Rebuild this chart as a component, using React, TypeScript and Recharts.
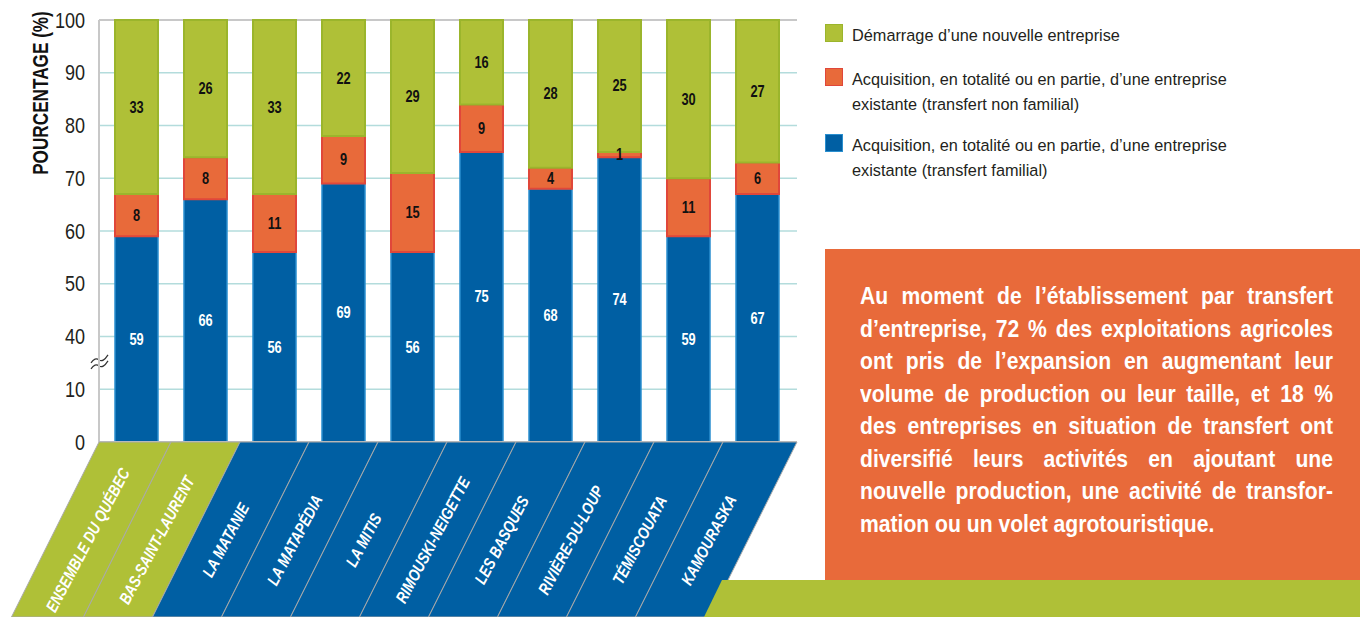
import { BarChart, Bar, XAxis, YAxis, CartesianGrid, LabelList, ReferenceLine } from 'recharts';

const regions = [
  'ENSEMBLE DU QUÉBEC',
  'BAS-SAINT-LAURENT',
  'LA MATANIE',
  'LA MATAPÉDIA',
  'LA MITIS',
  'RIMOUSKI-NEIGETTE',
  'LES BASQUES',
  'RIVIÈRE-DU-LOUP',
  'TÉMISCOUATA',
  'KAMOURASKA',
];
const familial = [59, 66, 56, 69, 56, 75, 68, 74, 59, 67];
const nonFamilial = [8, 8, 11, 9, 15, 9, 4, 1, 11, 6];
const demarrage = [33, 26, 33, 22, 29, 16, 28, 25, 30, 27];
const yTicks = [0, 10, 40, 50, 60, 70, 80, 90, 100];

const legendItems = [
  { color: '#afc037', border: '#9bb52c', lines: ['Démarrage d’une nouvelle entreprise'] },
  {
    color: '#e86a3a',
    border: '#e0473a',
    lines: ['Acquisition, en totalité ou en partie, d’une entreprise', 'existante (transfert non familial)'],
  },
  {
    color: '#005fa3',
    border: '#2a8fcf',
    lines: ['Acquisition, en totalité ou en partie, d’une entreprise', 'existante (transfert familial)'],
  },
];

const noteLines = [
  'Au moment de l’établissement par transfert',
  'd’entreprise, 72 % des exploitations agricoles',
  'ont pris de l’expansion en augmentant leur',
  'volume de production ou leur taille, et 18 %',
  'des entreprises en situation de transfert ont',
  'diversifié leurs activités en ajoutant une',
  'nouvelle production, une activité de transfor-',
  'mation ou un volet agrotouristique.',
];

// axis break: 10..40 squeezed into one step
const BREAK_LOW = 10;
const BREAK_HIGH = 40;
const toAxis = (v: number) => (v <= BREAK_LOW ? v : v - (BREAK_HIGH - BREAK_LOW) + 10);
const fromAxis = (p: number) => (p <= BREAK_LOW ? p : p + (BREAK_HIGH - BREAK_LOW) - 10);

const data = regions.map((name, i) => ({
  name,
  familial: familial[i],
  familialPlot: toAxis(familial[i]),
  nonFamilial: nonFamilial[i],
  demarrage: demarrage[i],
}));

const GREEN = '#afc037';
const ORANGE = '#e86a3a';
const BLUE = '#005fa3';
const BORDER = '#c8c8c8';
const SANS = '"Liberation Sans", Arial, sans-serif';

const BAND = 69;
const DEPTH = 175;
const SLANT = 0.5;

function RegionTick(props: any) {
  const { x, y, payload, index } = props;
  let l = x - BAND / 2;
  let r = x + BAND / 2;
  if (index === 0) l -= 3;
  if (index === regions.length - 1) r += 5;
  const dx = DEPTH * SLANT;
  const pts = `${l},${y} ${r},${y} ${r - dx},${y + DEPTH} ${l - dx},${y + DEPTH}`;
  const cy = y + 98;
  const cx = x - 98 * SLANT;
  return (
    <g>
      <polygon points={pts} fill={index < 2 ? GREEN : BLUE} stroke="#a9a9a9" strokeWidth={1} />
      <text
        transform={`translate(${cx},${cy}) rotate(-62) scale(0.82,1)`}
        textAnchor="middle"
        dominantBaseline="central"
        fill="#fff"
        fontFamily={SANS}
        fontWeight="bold"
        fontStyle="italic"
        fontSize={16.5}
      >
        {payload.value}
      </text>
    </g>
  );
}

function PercentTick(props: any) {
  const { x, y, payload } = props;
  return (
    <text
      transform={`translate(${x},${y}) scale(0.82,1)`}
      textAnchor="end"
      dominantBaseline="central"
      fill="#231f20"
      fontFamily={SANS}
      fontSize={22}
    >
      {fromAxis(payload.value)}
    </text>
  );
}

function ValueLabel(props: any) {
  const { x, y, width, height, value, color } = props;
  const cx = x + width / 2;
  const cy = y + height / 2;
  return (
    <text
      transform={`translate(${cx},${cy}) scale(0.8,1)`}
      textAnchor="middle"
      dominantBaseline="central"
      fill={color}
      fontFamily={SANS}
      fontWeight="bold"
      fontSize={16}
    >
      {value}
    </text>
  );
}

function BreakMark(props: any) {
  const { viewBox } = props;
  const x = 99;
  const y = viewBox.y;
  return (
    <g>
      <rect x={x - 2} y={y - 7} width={5} height={14} fill="#fff" />
      <path d={`M${x - 8},${y} q4,-6 8,-3 q4,3 9,-5`} fill="none" stroke="#333" strokeWidth={1.2} />
      <path d={`M${x - 8},${y + 6} q4,-6 8,-3 q4,3 9,-5`} fill="none" stroke="#333" strokeWidth={1.2} />
    </g>
  );
}

export default function App() {
  return (
    <div style={{ position: 'absolute', left: 0, top: 0, width: 1360, height: 617, overflow: 'hidden', background: '#fff' }}>
      <BarChart width={800} height={617} data={data} margin={{ top: 20, right: 3, bottom: 0, left: 0 }} barSize={43}>
        <CartesianGrid vertical={false} stroke="#b3dcdc" strokeWidth={1.5} horizontalValues={[10, 20, 30, 40, 50, 60, 70]} />
        <CartesianGrid vertical={false} stroke={BORDER} strokeWidth={2} horizontalValues={[80]} />
        <XAxis
          dataKey="name"
          interval={0}
          height={175}
          tickLine={false}
          tickSize={0}
          tickMargin={0}
          padding={{ left: 3, right: 5 }}
          axisLine={{ stroke: BORDER, strokeWidth: 2 }}
          tick={<RegionTick />}
        />
        <YAxis
          width={99}
          domain={[0, 80]}
          ticks={yTicks.map(toAxis)}
          tickLine={false}
          tickMargin={8}
          axisLine={{ stroke: BORDER, strokeWidth: 2 }}
          tick={<PercentTick />}
          interval={0}
        />
        <YAxis yAxisId="right" orientation="right" width={0} domain={[0, 80]} tick={false} tickLine={false} axisLine={{ stroke: BORDER, strokeWidth: 2 }} />
        <Bar dataKey="familialPlot" stackId="s" fill={BLUE} stroke="#2a8fcf" strokeWidth={1.5} isAnimationActive={false}>
          <LabelList dataKey="familial" content={(p: any) => <ValueLabel {...p} color="#fff" />} />
        </Bar>
        <Bar dataKey="nonFamilial" stackId="s" fill={ORANGE} stroke="#e0473a" strokeWidth={2} isAnimationActive={false}>
          <LabelList dataKey="nonFamilial" content={(p: any) => <ValueLabel {...p} color="#111" />} />
        </Bar>
        <Bar dataKey="demarrage" stackId="s" fill={GREEN} stroke="#9bb52c" strokeWidth={2} isAnimationActive={false}>
          <LabelList dataKey="demarrage" content={(p: any) => <ValueLabel {...p} color="#111" />} />
        </Bar>
        <ReferenceLine y={15} stroke="none" ifOverflow="visible" label={<BreakMark />} />
      </BarChart>

      <div
        style={{
          position: 'absolute',
          left: 41,
          top: 93,
          transform: 'translate(-50%, -50%) rotate(-90deg) scaleX(0.78)',
          whiteSpace: 'nowrap',
          fontFamily: SANS,
          fontWeight: 'bold',
          fontSize: 22,
          color: '#111',
        }}
      >
        POURCENTAGE (%)
      </div>

      {legendItems.map((item, i) => (
        <div key={i} style={{ position: 'absolute', left: 825, top: [24, 68, 134][i], display: 'flex' }}>
          <div style={{ width: 16, height: 16, background: item.color, border: `1px solid ${item.border}`, flex: 'none' }} />
          <div style={{ marginLeft: 9, marginTop: -1, fontFamily: SANS, fontSize: 16.3, lineHeight: '25px', color: '#231f20' }}>
            {item.lines.map((t, j) => (
              <div key={j}>{t}</div>
            ))}
          </div>
        </div>
      ))}

      <div style={{ position: 'absolute', left: 825, top: 249, width: 535, height: 331, background: ORANGE }} />
      <div
        style={{
          position: 'absolute',
          left: 860,
          top: 280,
          width: 473 / 0.88,
          transform: 'scaleX(0.88)',
          transformOrigin: 'left top',
          fontFamily: SANS,
          fontWeight: 'bold',
          fontSize: 24,
          color: '#fff',
        }}
      >
        {noteLines.map((t, i) => (
          <div
            key={i}
            style={{
              height: 32.5,
              lineHeight: '32.5px',
              textAlign: i === noteLines.length - 1 ? 'left' : 'justify',
              textAlignLast: i === noteLines.length - 1 ? 'left' : 'justify',
              whiteSpace: 'nowrap',
            }}
          >
            {t}
          </div>
        ))}
      </div>
      <div
        style={{
          position: 'absolute',
          left: 700,
          top: 580,
          width: 660,
          height: 37,
          background: GREEN,
          clipPath: 'polygon(22px 0, 100% 0, 100% 100%, 4px 100%)',
        }}
      />
    </div>
  );
}
